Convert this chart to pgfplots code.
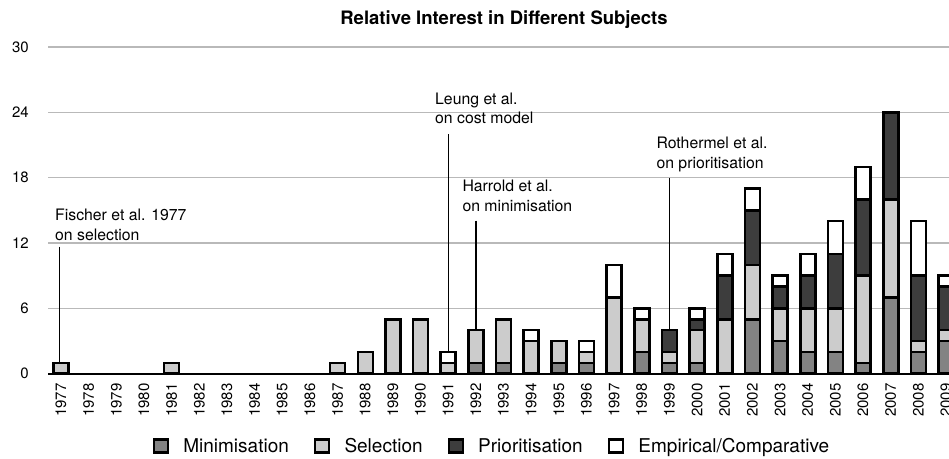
\documentclass[border=0pt]{standalone}
\usepackage{fontspec}
\setmainfont{TeX Gyre Heros}
\usepackage{pgfplots}
\usepackage{pgfplotstable}
\pgfplotsset{compat=1.18}
\definecolor{cmin}{RGB}{131,131,131}
\definecolor{csel}{RGB}{204,204,204}
\definecolor{cpri}{RGB}{61,61,61}
\definecolor{cgrid}{RGB}{185,185,185}
\pgfplotstableread{
year M S P E
1977 0 1 0 0
1981 0 1 0 0
1987 0 1 0 0
1988 0 2 0 0
1989 0 5 0 0
1990 0 5 0 0
1991 0 1 0 1
1992 1 3 0 0
1993 1 4 0 0
1994 0 3 0 1
1995 1 2 0 0
1996 1 1 0 1
1997 0 7 0 3
1998 2 3 0 1
1999 1 1 2 0
2000 1 3 1 1
2001 0 5 4 2
2002 5 5 5 2
2003 3 3 2 1
2004 2 4 3 2
2005 2 4 5 3
2006 1 8 7 3
2007 7 9 8 0
2008 2 1 6 5
2009 3 1 4 1
}\datatable
\begin{document}
\begin{tikzpicture}
\path[use as bounding box] (0,0) rectangle (949pt,458pt);
\begin{axis}[
 at={(48.3pt,84.3pt)}, anchor=south west,
 width=910.5pt, height=326.7pt, scale only axis,
 xmin=1976.54, xmax=2009.46, ymin=0, ymax=30,
 ybar stacked, bar width=15pt,
 axis x line=bottom, axis y line=left,
 y axis line style={draw=none},
 x axis line style={line width=2pt, -},
 major tick length=0pt,
 ytick={0,6,...,30},
 xtick={1977,...,2009},
 ymajorgrids, grid style={cgrid, line width=1.3pt},
 /pgf/number format/assume math mode=true,
 /pgf/number format/1000 sep={},
 yticklabel style={font=\fontsize{15}{15}\selectfont, anchor=east, inner sep=0pt},
 yticklabel shift=19.3pt,
 xticklabel style={font=\fontsize{15}{15}\selectfont, rotate=90, anchor=east, inner sep=0pt},
 xticklabel shift=9.6pt,
 every axis plot/.append style={draw=black, line width=2.5pt},
 legend columns=4,
 legend image code/.code={\draw[#1, line width=2.4pt] (1.2pt,-6.6pt) rectangle (15.1pt,6.6pt);},
 legend style={at={(0.1147,-0.2213)}, anchor=west, draw=none, fill=none,
   inner sep=0pt, outer sep=0pt, font=\fontsize{19}{19}\selectfont,
   nodes={inner sep=0pt},
   /tikz/every odd column/.append style={column sep=14.3pt},
   /tikz/every even column/.append style={column sep=25pt}},
 clip=false,
]
\addplot[fill=cmin] table[x=year, y=M] {\datatable};
\addplot[fill=csel] table[x=year, y=S] {\datatable};
\addplot[fill=cpri] table[x=year, y=P] {\datatable};
\addplot[fill=white] table[x=year, y=E] {\datatable};
\legend{Minimisation, Selection, Prioritisation, Empirical/Comparative}
\draw[line width=1.3pt] (axis cs:1976.95,11.66) -- (axis cs:1976.95,0.64);
\draw[line width=1.3pt] (axis cs:1991,21.98) -- (axis cs:1991,1.45);
\draw[line width=1.3pt] (axis cs:1992,14.05) -- (axis cs:1992,0.5);
\draw[line width=1.3pt] (axis cs:1999,17.94) -- (axis cs:1999,4);
\end{axis}
\node[anchor=base, font=\bfseries\fontsize{18.5}{18.5}\selectfont] at (504pt,433pt) {Relative Interest in Different Subjects};
\begin{scope}[every node/.style={anchor=base west, inner sep=0pt, font=\fontsize{15.8}{15.8}\selectfont}]
\node at (55pt,237.3pt) {Fischer et al. 1977};
\node at (55pt,217.3pt) {on selection};
\node at (435pt,353pt) {Leung et al.};
\node at (435pt,334pt) {on cost model};
\node at (462.3pt,266.3pt) {Harrold et al.};
\node at (462.3pt,246.3pt) {on minimisation};
\node at (656.3pt,309pt) {Rothermel et al.};
\node at (656.3pt,289.7pt) {on prioritisation};
\end{scope}
\end{tikzpicture}
\end{document}
